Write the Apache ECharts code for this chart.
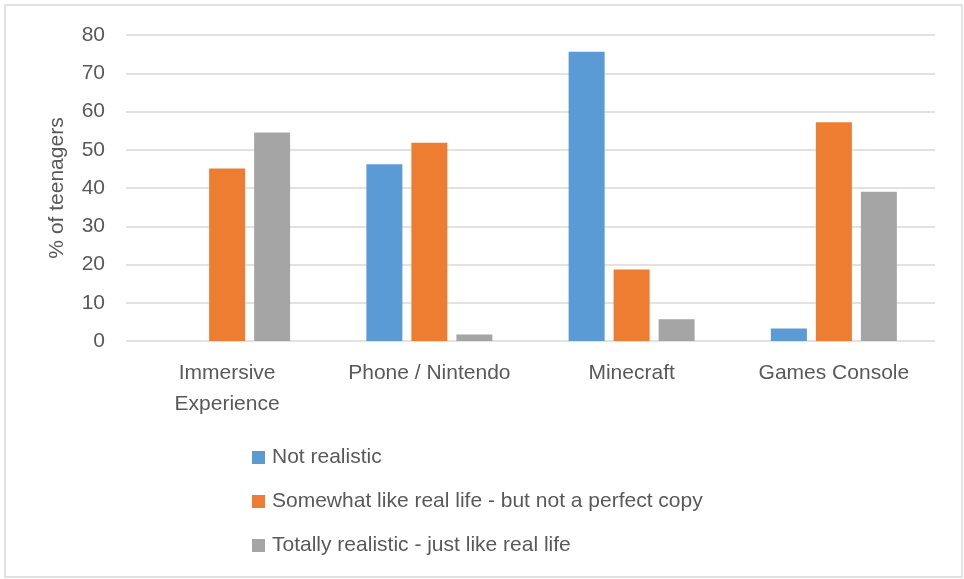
<!DOCTYPE html>
<html><head><meta charset="utf-8">
<script src="https://cdn.jsdelivr.net/npm/echarts@6/dist/echarts.min.js"></script>
<style>html,body{margin:0;padding:0;background:#fff}#c{width:964px;height:579px}</style>
</head><body><div id="c"></div>
<script>
const categories = ['Immersive\nExperience', 'Phone / Nintendo', 'Minecraft', 'Games Console'];
const notRealistic = [0, 46.2, 75.6, 3.3];
const somewhat = [45.1, 51.8, 18.7, 57.2];
const totally = [54.5, 1.7, 5.7, 39.0];
const seriesNames = ['Not realistic', 'Somewhat like real life - but not a perfect copy', 'Totally realistic - just like real life'];
const colors = ['#5B9BD5', '#ED7D31', '#A5A5A5'];
const font = '"Liberation Sans", sans-serif';
const chart = echarts.init(document.getElementById('c'));
chart.setOption({
  animation: false,
  color: colors,
  textStyle: {fontFamily: font},
  grid: {left: 126, right: 29, top: 35, bottom: 238, containLabel: false},
  graphic: [{type: 'rect', shape: {x: 5, y: 5, width: 957, height: 572}, style: {fill: null, stroke: '#D9D9D9', lineWidth: 1.5}, silent: true}],
  legend: {
    orient: 'vertical', left: 247, top: 442, itemWidth: 13, itemHeight: 13, itemGap: 23,
    icon: 'rect',
    textStyle: {fontFamily: font, fontSize: 21, color: '#595959', lineHeight: 21, padding: [0, 0, 0, 2]},
    data: seriesNames
  },
  xAxis: {
    type: 'category', data: categories,
    axisLine: {show: false}, axisTick: {show: false},
    axisLabel: {fontFamily: font, fontSize: 21, color: '#595959', margin: 17, lineHeight: 31, interval: 0}
  },
  yAxis: {
    type: 'value', min: 0, max: 80, interval: 10,
    name: '% of teenagers', nameLocation: 'middle', nameGap: 58, nameRotate: 90,
    nameTextStyle: {fontFamily: font, fontSize: 21, color: '#595959'},
    axisLine: {show: false}, axisTick: {show: false},
    axisLabel: {fontFamily: font, fontSize: 21, color: '#595959', margin: 21},
    splitLine: {lineStyle: {color: '#D9D9D9', width: 1.5}}
  },
  series: [
    {name: seriesNames[0], type: 'bar', data: notRealistic, barWidth: 36, barGap: '25%'},
    {name: seriesNames[1], type: 'bar', data: somewhat, barWidth: 36, barGap: '25%'},
    {name: seriesNames[2], type: 'bar', data: totally, barWidth: 36, barGap: '25%'}
  ]
});
</script></body></html>
